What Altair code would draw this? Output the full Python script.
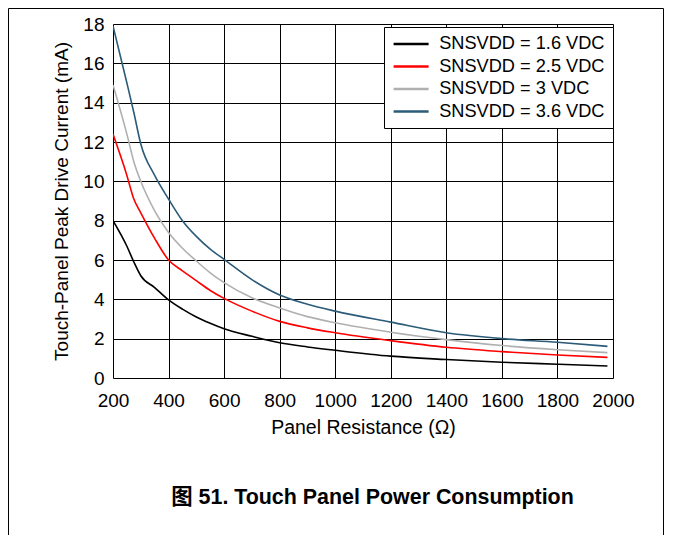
import altair as alt
import pandas as pd

resistance = [200, 250, 275, 300, 350, 400, 450, 500, 550, 600, 700, 800, 900, 1000, 1200, 1400, 1600, 1800, 1980]
v16 = [8.0, 6.7, 5.9, 5.2, 4.6, 3.97, 3.5, 3.1, 2.78, 2.5, 2.12, 1.79, 1.58, 1.41, 1.11, 0.94, 0.8, 0.7, 0.61]
v25 = [12.4, 10.3, 9.1, 8.4, 7.1, 6.0, 5.45, 4.95, 4.45, 4.05, 3.4, 2.88, 2.55, 2.3, 1.9, 1.56, 1.34, 1.17, 1.05]
v30 = [14.9, 12.4, 11.0, 10.0, 8.5, 7.4, 6.6, 5.95, 5.35, 4.85, 4.08, 3.56, 3.12, 2.81, 2.33, 1.95, 1.65, 1.44, 1.29]
v36 = [17.9, 15.0, 13.5, 11.9, 10.3, 9.1, 8.0, 7.2, 6.55, 6.03, 5.0, 4.22, 3.75, 3.4, 2.84, 2.3, 2.0, 1.82, 1.61]

series_names = ["SNSVDD = 1.6 VDC", "SNSVDD = 2.5 VDC", "SNSVDD = 3 VDC", "SNSVDD = 3.6 VDC"]
series_values = [v16, v25, v30, v36]
series_colors = ["#000000", "#ff0000", "#b0b0b0", "#2b5b78"]

x_ticks = [200, 400, 600, 800, 1000, 1200, 1400, 1600, 1800, 2000]
y_ticks = [0, 2, 4, 6, 8, 10, 12, 14, 16, 18]

caption = ["图 51. Touch Panel Power Consumption"]

rows = []
for name, vals in zip(series_names, series_values):
    for r, v in zip(resistance, vals):
        rows.append({"series": name, "r": r, "i": v, "order": series_names.index(name)})
df = pd.DataFrame(rows)

FONT = "Liberation Sans"

lines = alt.Chart(df).mark_line(strokeWidth=1.6, clip=True, interpolate="monotone").encode(
    x=alt.X("r:Q", scale=alt.Scale(domain=[200, 2000], nice=False),
            axis=alt.Axis(values=x_ticks, format="d", labelOverlap=False, labelFlush=False,
                          title="Panel Resistance (Ω)", grid=True,
                          gridColor="#000000", gridOpacity=1, gridWidth=1,
                          ticks=False, domain=False, labelPadding=13,
                          labelFontSize=19, titleFontSize=19.5, titleFontWeight="normal",
                          titlePadding=8, labelColor="#000", titleColor="#000",
                          labelFont=FONT, titleFont=FONT)),
    y=alt.Y("i:Q", scale=alt.Scale(domain=[0, 18], nice=False),
            axis=alt.Axis(values=y_ticks, labelOverlap=False, labelFlush=False,
                          title="Touch-Panel Peak Drive Current (mA)", grid=True,
                          gridColor="#000000", gridOpacity=1, gridWidth=1,
                          ticks=False, domain=False, labelPadding=9,
                          labelFontSize=19, titleFontSize=19, titleFontWeight="normal",
                          titlePadding=11, labelColor="#000", titleColor="#000",
                          labelFont=FONT, titleFont=FONT)),
    color=alt.Color("series:N", scale=alt.Scale(domain=series_names, range=series_colors),
                    legend=alt.Legend(title=None, orient="none", legendX=271, legendY=3,
                                      symbolType="M-7,0H7", symbolSize=25, symbolStrokeWidth=2.5,
                                      symbolOffset=10,
                                      labelFontSize=18.2, labelFont=FONT, labelColor="#000",
                                      labelOffset=19, rowPadding=3.5, padding=8,
                                      strokeColor="#000000", fillColor="#ffffff",
                                      labelLimit=300)),
    order="order:Q",
)

frame = alt.Chart(pd.DataFrame({"k": [0]})).mark_rect(
    fill=None, stroke="#000000", strokeWidth=1, clip=False
).encode(
    x=alt.value(-104.5), x2=alt.value(550.5), y=alt.value(-15.5), y2=alt.value(600)
)

title_text = alt.Chart(pd.DataFrame({"t": caption})).mark_text(
    font="Liberation Sans, Noto Sans CJK SC", fontSize=21.4, fontWeight="bold",
    color="#000000", align="center", baseline="middle", clip=False
).encode(
    text="t:N", x=alt.value(259.5), y=alt.value(474)
)

chart = alt.layer(lines, frame, title_text).properties(
    width=500, height=354,
    autosize=alt.AutoSizeParams(type="none"),
    padding={"left": 105, "top": 16, "right": 52, "bottom": 157},
).configure_view(stroke="#000000", strokeWidth=2.5).configure(background="#ffffff")

chart.save("out.html", embed_options={"renderer": "svg", "actions": False})
